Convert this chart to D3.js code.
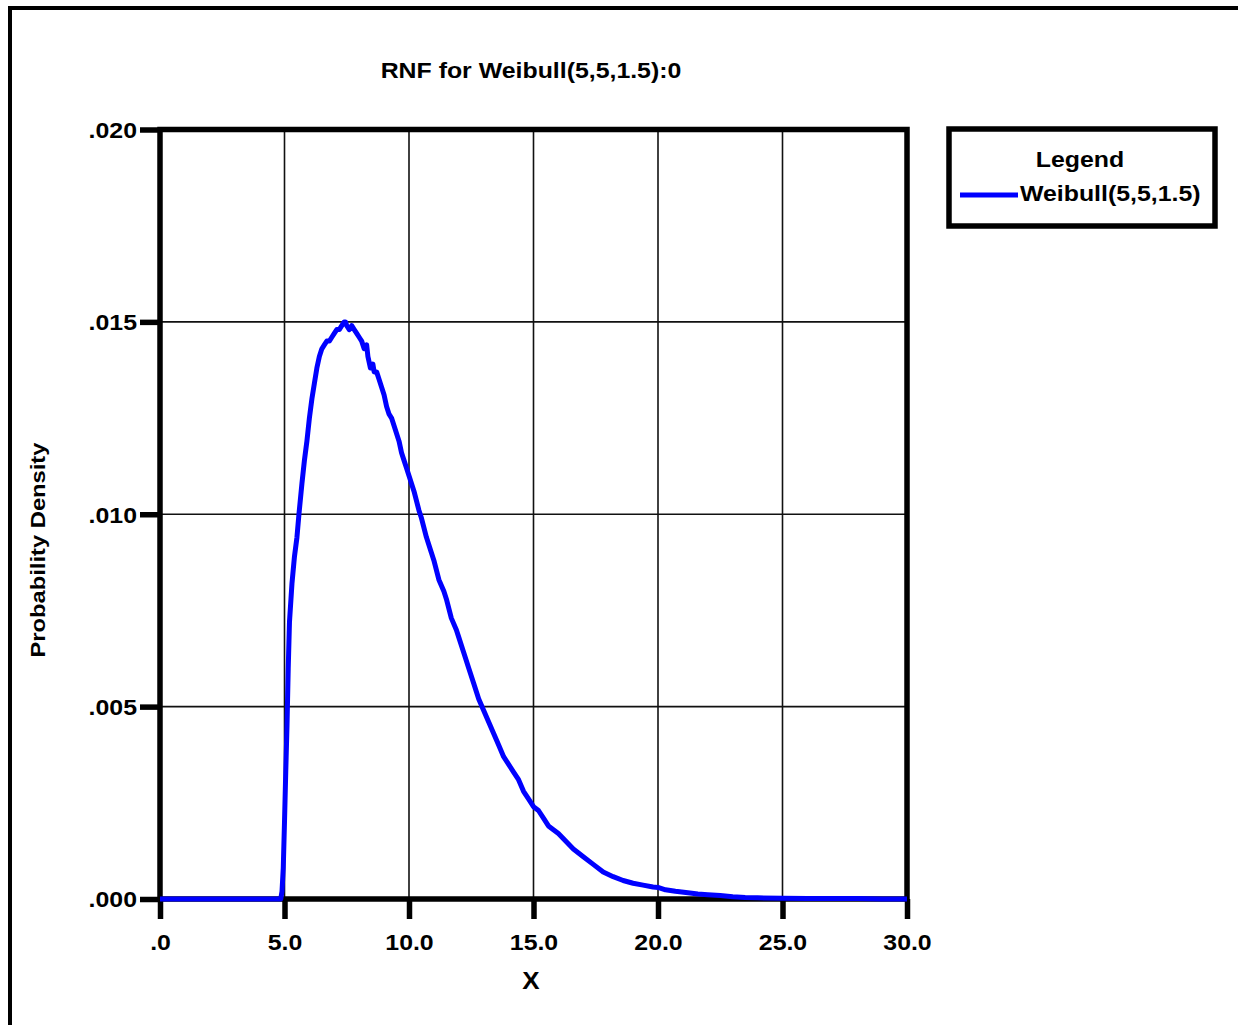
<!DOCTYPE html>
<html>
<head>
<meta charset="utf-8">
<script src="https://cdn.jsdelivr.net/npm/d3@7"></script>
<style>
  html, body { margin: 0; padding: 0; background: #fff; overflow: hidden; }
  text { font-family: "Liberation Sans", Arial, sans-serif; font-weight: bold; fill: #000; }
</style>
</head>
<body>
<svg id="chart" width="1238" height="1025"></svg>
<script>
// ---- data ----
const chartTitle = "RNF for Weibull(5,5,1.5):0";
const seriesName = "Weibull(5,5,1.5)";
const xLabel = "X";
const yLabel = "Probability Density";
const xTickValues = [0, 5, 10, 15, 20, 25, 30];
const xTickLabels = [".0", "5.0", "10.0", "15.0", "20.0", "25.0", "30.0"];
const yTickValues = [0, 0.005, 0.010, 0.015, 0.020];
const yTickLabels = [".000", ".005", ".010", ".015", ".020"];
const xValues = [
  0, 4.85, 4.9, 4.95, 5.0, 5.05, 5.1, 5.15, 5.2, 5.3, 5.4, 5.5, 5.58, 5.7, 5.8, 5.9,
  6.0, 6.1, 6.2, 6.3, 6.4, 6.5, 6.6, 6.7, 6.8, 6.9, 7.0, 7.1, 7.2, 7.3, 7.4, 7.45,
  7.5, 7.6, 7.7, 7.8, 7.9, 8.0, 8.1, 8.2, 8.3, 8.35, 8.45, 8.55, 8.6, 8.7, 8.8, 8.9,
  9.0, 9.1, 9.2, 9.3, 9.4, 9.5, 9.6, 9.7, 9.8, 9.9, 10.0, 10.2, 10.4, 10.5, 10.7, 10.9,
  11.0, 11.2, 11.4, 11.5, 11.7, 11.9, 12.0, 12.2, 12.4, 12.6, 12.8, 13.0, 13.2, 13.4,
  13.6, 13.8, 14.0, 14.2, 14.4, 14.6, 14.8, 15.0, 15.2, 15.4, 15.6, 15.8, 16.0, 16.3,
  16.6, 17.0, 17.4, 17.8, 18.2, 18.6, 19.0, 19.4, 19.8, 20.0, 20.3, 20.7, 21.2, 21.6,
  22.0, 22.5, 23.0, 23.5, 24.0, 25.0, 26.0, 27.0, 28.0, 29.0, 30.0
];
const densityValues = [
  0, 0, 0.0002, 0.0008, 0.0020, 0.0033, 0.0045, 0.0060, 0.0072, 0.0082, 0.0089, 0.0094, 0.0100, 0.0108, 0.0114, 0.0119,
  0.0125, 0.0130, 0.0134, 0.0138, 0.0141, 0.0143, 0.0144, 0.0145, 0.0145, 0.0146, 0.0147, 0.0148, 0.0148, 0.0149, 0.0150, 0.0150,
  0.0149, 0.0148, 0.0149, 0.0148, 0.0147, 0.0146, 0.0145, 0.0143, 0.0144, 0.0141, 0.0138, 0.0139, 0.0137, 0.0137, 0.0135, 0.0133,
  0.0131, 0.0128, 0.0126, 0.0125, 0.0123, 0.0121, 0.0119, 0.0116, 0.0114, 0.0112, 0.0110, 0.0106, 0.0101, 0.0099, 0.0094, 0.0090,
  0.0088, 0.0083, 0.0080, 0.0078, 0.0073, 0.0070, 0.0068, 0.0064, 0.0060, 0.0056, 0.0052, 0.0049, 0.0046, 0.0043,
  0.0040, 0.0037, 0.0035, 0.0033, 0.0031, 0.0028, 0.0026, 0.0024, 0.0023, 0.0021, 0.0019, 0.0018, 0.0017, 0.0015,
  0.0013, 0.0011, 0.0009, 0.0007, 0.00058, 0.00048, 0.00041, 0.00036, 0.00031, 0.00030, 0.00024, 0.00020, 0.00016, 0.00013,
  0.00011, 0.00009, 0.00006, 0.00004, 0.00003, 0.00002, 0.00001, 0.00001, 0.00001, 0, 0
];

// ---- layout ----
const svg = d3.select("#chart");
const plot = { left: 160, right: 907, top: 129.5, bottom: 899 };
const STRETCH = 1.13;

const x = d3.scaleLinear().domain([0, 30]).range([plot.left, plot.right]);
const y = d3.scaleLinear().domain([0, 0.02]).range([plot.bottom, plot.top]);

function stretch(sel) {
  sel.each(function () {
    const len = this.getComputedTextLength();
    d3.select(this).attr("textLength", len * STRETCH).attr("lengthAdjust", "spacingAndGlyphs");
  });
  return sel;
}

// outer frame (only top/left edges visible)
svg.append("rect")
  .attr("x", 10).attr("y", 8).attr("width", 2000).attr("height", 2000)
  .attr("fill", "none").attr("stroke", "#000").attr("stroke-width", 4);

// title
stretch(svg.append("text")
  .attr("x", 531).attr("y", 78).attr("text-anchor", "middle")
  .style("font-size", "22px").text(chartTitle));

// grid
const grid = svg.append("g");
grid.selectAll("line.gx").data(xTickValues.filter(v => v > 0 && v < 30)).join("line")
  .attr("x1", d => x(d)).attr("x2", d => x(d))
  .attr("y1", plot.top).attr("y2", plot.bottom)
  .attr("stroke", "#111").attr("stroke-width", 1.6);
grid.selectAll("line.gy").data(yTickValues.filter(v => v > 0 && v < 0.02)).join("line")
  .attr("y1", d => y(d)).attr("y2", d => y(d))
  .attr("x1", plot.left).attr("x2", plot.right)
  .attr("stroke", "#111").attr("stroke-width", 1.6);

// axes via d3
const xAxis = d3.axisBottom(x).tickValues(xTickValues)
  .tickFormat((d, i) => xTickLabels[i]).tickSize(20).tickPadding(15);
const yAxis = d3.axisLeft(y).tickValues(yTickValues)
  .tickFormat((d, i) => yTickLabels[i]).tickSize(20).tickPadding(3);

const gx = svg.append("g").attr("transform", `translate(0,${plot.bottom})`).call(xAxis);
const gy = svg.append("g").attr("transform", `translate(${plot.left},0)`).call(yAxis);
[gx, gy].forEach(g => {
  g.select(".domain").remove();
  g.selectAll(".tick line").attr("stroke", "#000").attr("stroke-width", 5.5);
  g.selectAll(".tick text").attr("fill", "#000")
    .style("font-family", "'Liberation Sans', Arial, sans-serif")
    .style("font-weight", "bold").style("font-size", "22px");
});
gx.selectAll(".tick text").attr("dy", "0.71em");
gy.selectAll(".tick text").attr("dy", "0.36em");
stretch(gx.selectAll(".tick text"));
stretch(gy.selectAll(".tick text"));

// plot frame
svg.append("rect")
  .attr("x", plot.left).attr("y", plot.top)
  .attr("width", plot.right - plot.left).attr("height", plot.bottom - plot.top)
  .attr("fill", "none").attr("stroke", "#000").attr("stroke-width", 5.5);

// data line
const pts = xValues.map((v, i) => [v, densityValues[i]]);
svg.append("path")
  .datum(pts)
  .attr("d", d3.line().x(d => x(d[0])).y(d => y(d[1])))
  .attr("fill", "none").attr("stroke", "#0000ff").attr("stroke-width", 5)
  .attr("stroke-linejoin", "round");

// axis labels
stretch(svg.append("text")
  .attr("x", 531).attr("y", 989).attr("text-anchor", "middle")
  .style("font-size", "23px").text(xLabel));
stretch(svg.append("text")
  .attr("transform", "translate(45,550) rotate(-90)").attr("text-anchor", "middle")
  .style("font-size", "21px").text(yLabel));

// legend
const lg = svg.append("g");
lg.append("rect").attr("x", 949).attr("y", 129).attr("width", 266).attr("height", 97)
  .attr("fill", "#fff").attr("stroke", "#000").attr("stroke-width", 5.5);
stretch(lg.append("text").attr("x", 1080).attr("y", 167).attr("text-anchor", "middle")
  .style("font-size", "22px").text("Legend"));
lg.append("line").attr("x1", 960).attr("x2", 1018).attr("y1", 195).attr("y2", 195)
  .attr("stroke", "#0000ff").attr("stroke-width", 5);
stretch(lg.append("text").attr("x", 1020).attr("y", 201)
  .style("font-size", "22px").text(seriesName));
</script>
</body>
</html>
